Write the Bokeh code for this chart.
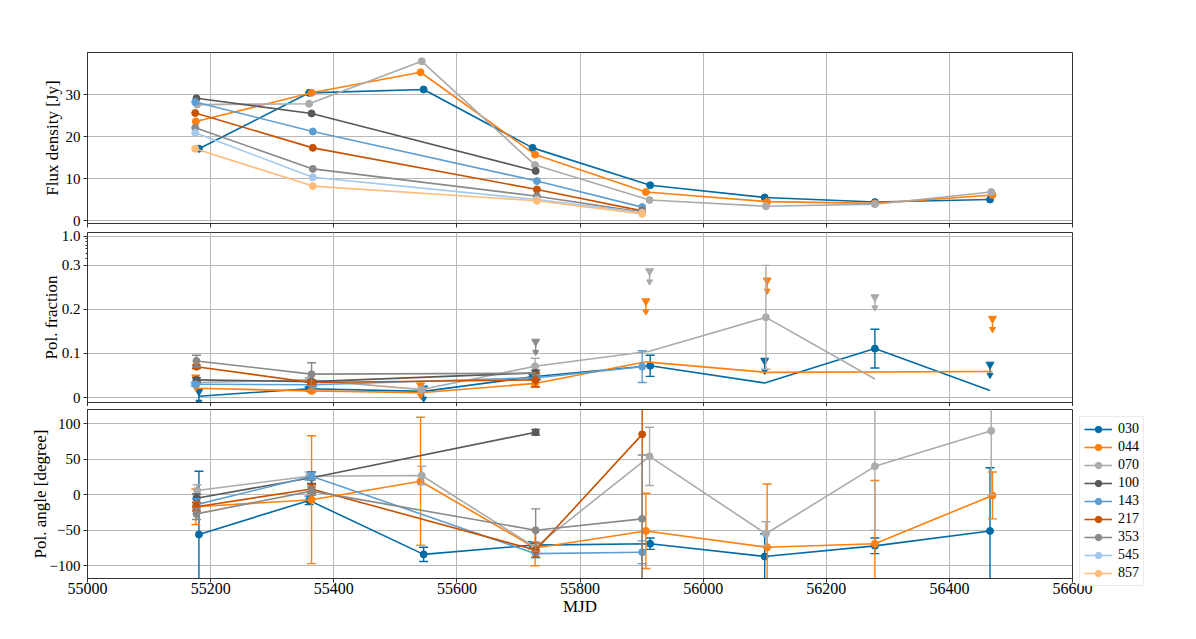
import math
from bokeh.plotting import figure
from bokeh.models import (FixedTicker, Range1d, Legend, LegendItem, BasicTickFormatter,
                          CustomLabelingPolicy)
from bokeh.layouts import column
from bokeh.embed import file_html
from bokeh.resources import INLINE

nan = float("nan")
FONT = "Liberation Serif"

bands = ["030", "044", "070", "100", "143", "217", "353", "545", "857"]
colors = ["#006BA4", "#FF800E", "#ABABAB", "#595959", "#5F9ED1",
          "#C85200", "#898989", "#A2C8EC", "#FFBC79"]

# ---------------- epochs (MJD) ----------------
mjd_030 = [55181, 55360, 55546, 55723, 55914, 56100, 56279, 56466]
mjd_044 = [55176, 55364, 55541, 55727, 55907, 56104, 56279, 56470]
mjd_070 = [55178, 55360, 55543, 55727, 55913, 56102, 56279, 56468]
mjd_100 = [55177, 55364, 55728]
mjd_hfi = [55175, 55366, 55730, 55901]

# ---------------- flux density [Jy] ----------------
flux_030 = [17.1, 30.4, 31.2, 17.3, 8.4, 5.5, 4.4, 5.0]
flux_044 = [23.6, 30.4, 35.3, 15.7, 6.8, 4.5, 4.1, 6.1]
flux_070 = [27.6, 27.8, 37.9, 13.2, 4.9, 3.4, 3.9, 6.8]
flux_100 = [29.1, 25.5, 11.8]
flux_143 = [28.2, 21.2, 9.4, 3.2]
flux_217 = [25.6, 17.3, 7.4, 2.3]
flux_353 = [22.1, 12.3, 5.8, 2.0]
flux_545 = [20.9, 10.3, 5.0, 1.9]
flux_857 = [17.1, 8.2, 4.7, 1.6]

# ---------------- polarization fraction ----------------
pf_mjd_030 = [55181, 55360, 55546, 55723, 55914, 56100, 56279, 56466]
pf_030 = [0.003, 0.020, 0.014, 0.047, 0.072, 0.033, 0.111, 0.016]
pf_err_030 = [nan, 0.004, nan, 0.006, 0.024, nan, 0.044, nan]
pf_lim_030 = [0.018, nan, 0.025, nan, nan, 0.088, nan, 0.079]

pf_mjd_044 = [55176, 55364, 55541, 55727, 55907, 56104, 56470]
pf_044 = [0.021, 0.015, 0.011, 0.032, 0.081, 0.057, 0.059]
pf_err_044 = [nan, 0.003, nan, 0.008, nan, nan, nan]
pf_lim_044 = [0.050, nan, 0.032, nan, 0.223, 0.270, 0.183]

pf_mjd_070 = [55178, 55360, 55543, 55727, 55913, 56102, 56279]
pf_070 = [0.034, 0.040, 0.018, 0.071, 0.105, 0.182, 0.042]
pf_err_070 = [0.004, 0.005, 0.005, 0.018, nan, 0.118, nan]
pf_lim_070 = [nan, nan, nan, nan, 0.291, nan, 0.232]

pf_mjd_100 = [55177, 55364, 55728]
pf_100 = [0.040, 0.036, 0.056]
pf_err_100 = [0.005, 0.004, 0.006]

pf_mjd_143 = [55175, 55366, 55730, 55901]
pf_143 = [0.030, 0.029, 0.045, 0.070]
pf_err_143 = [0.004, 0.004, 0.005, 0.036]

pf_mjd_217 = [55177, 55364, 55728]
pf_217 = [0.070, 0.034, 0.040]
pf_err_217 = [0.004, 0.004, 0.016]

pf_mjd_353 = [55177, 55364, 55728]
pf_353 = [0.083, 0.053, 0.055]
pf_err_353 = [0.013, 0.026, nan]
pf_lim_353 = [nan, nan, 0.131]

# ---------------- polarization angle [degree] ----------------
pa_030 = [-56, -8, -84, -71, -69, -87, -72, -51]
pa_err_030 = [89, 6, 10, 5, 8, 32, 11, 89]
pa_044 = [-17, -7, 19, -75, -51, -74, -69, -1]
pa_err_044 = [25, 90, 90, 25, 53, 89, 89, 33]
pa_070 = [6, 26, 27, -74, 54, -55, 40, 90]
pa_err_070 = [8, 6, 13, 8, 41, 17, 90, 90]
pa_mjd_100 = [55177, 55364, 55728]
pa_100 = [-5, 24, 88]
pa_err_100 = [6, 8, 4]
pa_mjd_hfi = [55177, 55364, 55728, 55901]
pa_143 = [-14, 26, -83, -81]
pa_err_143 = [8, 5, 6, 16]
pa_217 = [-17, 8, -78, 85]
pa_err_217 = [6, 6, 10, 300]
pa_353 = [-27, 5, -50, -34]
pa_err_353 = [8, 6, 30, 90]

x_ticks = [55000, 55200, 55400, 55600, 55800, 56000, 56200, 56400, 56600]
flux_ticks = [0, 10, 20, 30]
pf_tick_values = [0.0, 0.1, 0.2, 0.3, 1.0]
pf_tick_labels = ["0", "0.1", "0.2", "0.3", "1.0"]
pf_minor_values = [0.4, 0.5, 0.6, 0.7, 0.8, 0.9]
pa_ticks = [-100, -50, 0, 50, 100]
pa_tick_labels = ["\u2212100", "\u221250", "0", "50", "100"]

# polarization-fraction axis: linear up to 0.3, compressed (log) above
K_TOP = 0.0655


def T(v):
    if v <= 0.3:
        return v
    return 0.3 + K_TOP * math.log10(v / 0.3) / math.log10(1 / 0.3)


FRAME_W = 985
LEFT = 87


def style(p, show_xlabels, ylabel_standoff):
    p.outline_line_color = "#333333"
    p.outline_line_width = 1
    p.background_fill_color = "white"
    p.border_fill_color = "white"
    for ax in (p.xaxis[0], p.yaxis[0]):
        ax.axis_line_color = "#333333"
        ax.major_tick_line_color = "#333333"
        ax.major_tick_out = 4
        ax.major_tick_in = 0
        ax.minor_tick_line_color = None
        ax.major_label_text_font = FONT
        ax.major_label_text_font_size = "16px"
        ax.major_label_text_color = "black"
        ax.axis_label_text_font = FONT
        ax.axis_label_text_font_size = "17px"
        ax.axis_label_text_font_style = "normal"
        ax.axis_label_text_color = "black"
    p.yaxis.major_label_text_font_size = "15px"
    p.yaxis.major_label_standoff = 3
    p.yaxis.axis_label_standoff = ylabel_standoff
    p.xaxis.ticker = FixedTicker(ticks=x_ticks)
    p.xaxis.formatter = BasicTickFormatter(use_scientific=False)
    if not show_xlabels:
        p.xaxis.major_label_policy = CustomLabelingPolicy(code="return new Set()")
        p.xaxis.major_label_text_font_size = "0px"
        p.xaxis.major_label_standoff = 0
    p.xgrid.ticker = FixedTicker(ticks=x_ticks)
    for g in (p.xgrid[0], p.ygrid[0]):
        g.grid_line_color = "#b8b8b8"
        g.grid_line_width = 1
    p.x_range = Range1d(55000, 56600)


def errbars(p, xs, ys, es, color, transform=None):
    x0, lo, hi = [], [], []
    for x, y, e in zip(xs, ys, es):
        if e == e:
            x0.append(x)
            if transform:
                lo.append(transform(max(y - e, -0.05)))
                hi.append(transform(y + e))
            else:
                lo.append(y - e)
                hi.append(y + e)
    if not x0:
        return
    p.segment(x0=x0, y0=lo, x1=x0, y1=hi, line_color=color, line_width=1.4)
    p.scatter(x=x0 + x0, y=lo + hi, marker="dash", size=9, line_color=color,
              line_width=1.4)


def limits(p, xs, ls, color):
    x0, top, bot = [], [], []
    for x, l in zip(xs, ls):
        if l == l:
            x0.append(x)
            top.append(T(l))
            bot.append(T(l) - 0.031)
    if not x0:
        return
    p.segment(x0=x0, y0=top, x1=x0, y1=bot, line_color=color, line_width=1.4)
    p.scatter(x=x0, y=[t - 0.004 for t in top], marker="inverted_triangle",
              size=8, fill_color=color, line_color=color)
    p.scatter(x=x0, y=[b + 0.003 for b in bot], marker="inverted_triangle",
              size=6, fill_color=color, line_color=color)


# ================= panel 1: flux density =================
p1 = figure(frame_width=FRAME_W, frame_height=171, output_backend="svg",
            toolbar_location=None, min_border_left=LEFT, min_border_top=52,
            min_border_bottom=5, min_border_right=10)
style(p1, False, 1)
p1.y_range = Range1d(-0.7, 40)
p1.yaxis.ticker = FixedTicker(ticks=flux_ticks)
p1.ygrid.ticker = FixedTicker(ticks=flux_ticks)
p1.yaxis.axis_label = "Flux density [Jy]"

flux_series = [
    (mjd_030, flux_030), (mjd_044, flux_044), (mjd_070, flux_070),
    (mjd_100, flux_100), (mjd_hfi, flux_143), (mjd_hfi, flux_217),
    (mjd_hfi, flux_353), (mjd_hfi, flux_545), (mjd_hfi, flux_857),
]
for (xs, ys), c in zip(flux_series, colors):
    p1.line(xs, ys, line_color=c, line_width=1.6)
    p1.scatter(xs, ys, size=7, fill_color=c, line_color=c)

# ================= panel 2: polarization fraction =================
p2 = figure(frame_width=FRAME_W, frame_height=170, output_backend="svg",
            toolbar_location=None, min_border_left=LEFT, min_border_top=4,
            min_border_bottom=4, min_border_right=10)
style(p2, False, -2)
p2.y_range = Range1d(-0.0113, T(1.0) + 0.009)
pf_ticks = [T(v) for v in pf_tick_values]
p2.yaxis.ticker = FixedTicker(ticks=pf_ticks, minor_ticks=[T(v) for v in pf_minor_values])
p2.ygrid.ticker = FixedTicker(ticks=pf_ticks)
p2.yaxis.major_label_overrides = {t: s for t, s in zip(pf_ticks, pf_tick_labels)}
p2.yaxis.minor_tick_line_color = "#333333"
p2.yaxis.minor_tick_out = 2
p2.yaxis.minor_tick_in = 0
p2.yaxis.axis_label = "Pol. fraction"

pf_series = [
    (pf_mjd_030, pf_030, pf_err_030, pf_lim_030, colors[0]),
    (pf_mjd_044, pf_044, pf_err_044, pf_lim_044, colors[1]),
    (pf_mjd_070, pf_070, pf_err_070, pf_lim_070, colors[2]),
    (pf_mjd_100, pf_100, pf_err_100, None, colors[3]),
    (pf_mjd_143, pf_143, pf_err_143, None, colors[4]),
    (pf_mjd_217, pf_217, pf_err_217, None, colors[5]),
    (pf_mjd_353, pf_353, pf_err_353, pf_lim_353, colors[6]),
]
for xs, ys, es, ls, c in pf_series:
    p2.line(xs, [T(y) for y in ys], line_color=c, line_width=1.6)
    errbars(p2, xs, ys, es, c, transform=T)
    det_x = [x for x, e in zip(xs, es) if e == e]
    det_y = [T(y) for y, e in zip(ys, es) if e == e]
    p2.scatter(det_x, det_y, size=7, fill_color=c, line_color=c)
    if ls is not None:
        limits(p2, xs, ls, c)

# ================= panel 3: polarization angle =================
p3 = figure(frame_width=FRAME_W, frame_height=169, output_backend="svg",
            toolbar_location=None, min_border_left=LEFT, min_border_top=3,
            min_border_bottom=12, min_border_right=10)
style(p3, True, -3)
p3.y_range = Range1d(-118, 120)
p3.yaxis.ticker = FixedTicker(ticks=pa_ticks)
p3.ygrid.ticker = FixedTicker(ticks=pa_ticks)
p3.yaxis.major_label_overrides = {t: s for t, s in zip(pa_ticks, pa_tick_labels)}
p3.yaxis.axis_label = "Pol. angle [degree]"
p3.xaxis.axis_label = "MJD"
p3.xaxis.major_label_standoff = 0
p3.xaxis.axis_label_standoff = 0

pa_series = [
    (mjd_030, pa_030, pa_err_030, colors[0]),
    (mjd_044, pa_044, pa_err_044, colors[1]),
    (mjd_070, pa_070, pa_err_070, colors[2]),
    (pa_mjd_100, pa_100, pa_err_100, colors[3]),
    (pa_mjd_hfi, pa_143, pa_err_143, colors[4]),
    (pa_mjd_hfi, pa_217, pa_err_217, colors[5]),
    (pa_mjd_hfi, pa_353, pa_err_353, colors[6]),
]
for xs, ys, es, c in pa_series:
    p3.line(xs, ys, line_color=c, line_width=1.6)
    errbars(p3, xs, ys, es, c)
    p3.scatter(xs, ys, size=7, fill_color=c, line_color=c)

# legend with errorbar-like symbols (renderers placed outside the visible range)
items = []
for b, c in zip(bands, colors):
    r_line = p3.line(x=[0, 1], y=[1000, 1000], line_color=c, line_width=1.6)
    r_bar = p3.scatter(x=[0], y=[1000], marker="dash", angle=math.pi / 2, size=14,
                       line_color=c, line_width=1.4)
    r_dot = p3.scatter(x=[0], y=[1000], size=7, fill_color=c, line_color=c)
    items.append(LegendItem(label=b, renderers=[r_line, r_bar, r_dot]))

legend = Legend(items=items, location="top_left")
legend.label_text_font = FONT
legend.label_text_font_size = "14px"
legend.label_text_color = "black"
legend.glyph_height = 16
legend.glyph_width = 28
legend.label_height = 16
legend.spacing = 2
legend.padding = 4
legend.margin = 7
legend.label_standoff = 6
legend.border_line_color = "#d6d6d6"
legend.border_line_width = 1
legend.background_fill_alpha = 1.0
p3.add_layout(legend, "right")

layout = column(p1, p2, p3, spacing=0)
open("out.html", "w").write(file_html(layout, INLINE))
